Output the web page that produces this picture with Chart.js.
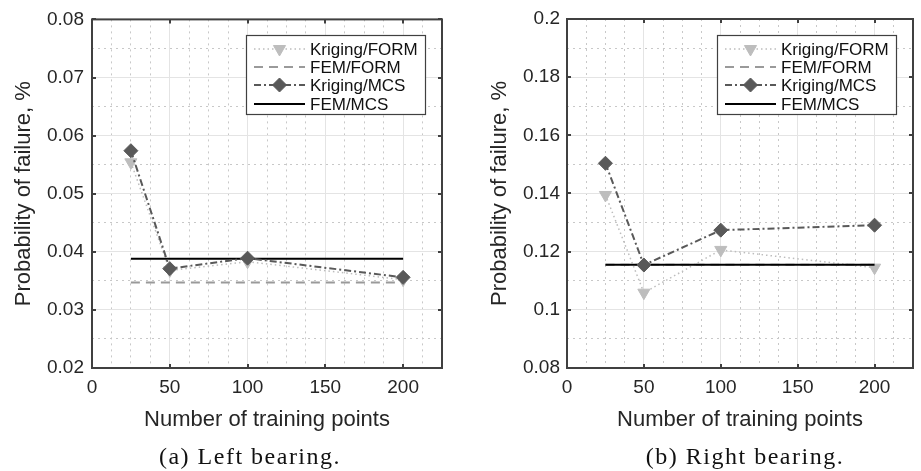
<!DOCTYPE html>
<html lang="en">

<head>
    <meta charset="UTF-8">
    <title>Probability of failure</title>
    <style>
        body { margin: 0; background: #fff; width: 921px; height: 471px; position: relative; overflow: hidden; }
        .painel { position: absolute; top: 0; height: 471px; }
        #painel-esq { left: 0; width: 460px; }
        #painel-dir { left: 460px; width: 461px; }
        .legenda-fig {
            position: absolute; top: 444px; line-height: 24px;
            font-family: "Liberation Serif", serif; font-size: 24px; letter-spacing: 1.5px;
            transform: translateX(-50%); white-space: nowrap; color: #111;
        }
    </style>
</head>

<body>
    <div class="painel" id="painel-esq"><canvas id="grafico-esq"></canvas></div>
    <div class="painel" id="painel-dir"><canvas id="grafico-dir"></canvas></div>
    <div class="legenda-fig" style="left: 250px;">(a) Left bearing.</div>
    <div class="legenda-fig" style="left: 745px;">(b) Right bearing.</div>
</body>

</html>
<script src="https://cdn.jsdelivr.net/npm/chart.js"></script>
<script>
    // dados
    var pontosTreino = [25, 50, 100, 200];
    var faixaFem = [25, 200];

    var esqKrigingForm = [0.0554, 0.0368, 0.0383, 0.0352];
    var esqKrigingMcs = [0.0574, 0.0371, 0.0389, 0.0356];
    var esqFemForm = 0.0347;
    var esqFemMcs = 0.0388;

    var dirKrigingForm = [0.1395, 0.1059, 0.1206, 0.1145];
    var dirKrigingMcs = [0.1504, 0.1154, 0.1274, 0.1291];
    var dirFemForm = 0.1155;
    var dirFemMcs = 0.1155;

    var xLimites = [0, 225];
    var xTicks = [0, 50, 100, 150, 200];
    var xPasso = 50;
    var xPassoMenor = 12.5;
    var esqYLimites = [0.02, 0.08];
    var esqYPasso = 0.01;
    var dirYLimites = [0.08, 0.2];
    var dirYPasso = 0.02;

    Chart.defaults.font.family = '"Liberation Sans", Arial, sans-serif';
    Chart.defaults.color = '#262626';

    function pares(xs, ys) {
        return xs.map(function (x, i) { return { x: x, y: ys[i] }; });
    }

    function multiplo(v, passo) {
        return Math.abs(Math.round(v / passo) * passo - v) < 1e-9;
    }

    // caixa estilo matlab + legenda dentro do grafico
    var caixaMatlab = {
        id: 'caixaMatlab',
        afterDatasetsDraw: function (chart) {
            var ctx = chart.ctx;
            var a = chart.chartArea;
            var sx = chart.scales.x;
            var sy = chart.scales.y;
            ctx.save();
            ctx.strokeStyle = '#404040';
            ctx.lineWidth = 2;
            ctx.beginPath();
            sx.ticks.forEach(function (t) {
                var px = Math.round(sx.getPixelForValue(t.value));
                ctx.moveTo(px, a.bottom); ctx.lineTo(px, a.bottom - 4);
                ctx.moveTo(px, a.top); ctx.lineTo(px, a.top + 4);
            });
            sy.ticks.forEach(function (t) {
                var py = Math.round(sy.getPixelForValue(t.value));
                ctx.moveTo(a.left, py); ctx.lineTo(a.left + 4, py);
                ctx.moveTo(a.right, py); ctx.lineTo(a.right - 4, py);
            });
            ctx.stroke();
            ctx.strokeRect(a.left, a.top, a.right - a.left, a.bottom - a.top);

            // legenda
            var larg = 179, alt = 79;
            var bx = Math.round(a.right - 17 - larg);
            var by = Math.round(a.top + 16);
            ctx.fillStyle = '#fff';
            ctx.fillRect(bx, by, larg, alt);
            ctx.strokeStyle = '#404040';
            ctx.lineWidth = 1.2;
            ctx.strokeRect(bx + 0.5, by + 0.5, larg, alt);
            var linhas = [14, 32, 50, 69];
            chart.data.datasets.forEach(function (ds, i) {
                var ly = by + linhas[i];
                ctx.save();
                ctx.strokeStyle = ds.borderColor;
                ctx.lineWidth = ds.borderWidth;
                ctx.setLineDash(ds.borderDash || []);
                ctx.beginPath();
                ctx.moveTo(bx + 8, ly);
                ctx.lineTo(bx + 59, ly);
                ctx.stroke();
                ctx.restore();
                if (ds.pointRadius > 0) {
                    ctx.save();
                    ctx.fillStyle = ds.pointBackgroundColor;
                    ctx.strokeStyle = ds.pointBackgroundColor;
                    ctx.lineWidth = 1;
                    Chart.helpers.drawPoint(ctx, {
                        pointStyle: ds.pointStyle, rotation: ds.pointRotation || 0,
                        radius: ds.pointRadius, borderWidth: 1
                    }, bx + 33.5, ly);
                    ctx.restore();
                }
                ctx.fillStyle = '#111';
                ctx.font = '17px "Liberation Sans", Arial, sans-serif';
                ctx.textBaseline = 'middle';
                ctx.textAlign = 'left';
                ctx.fillText(ds.label, bx + 64, ly + 1);
            });
            ctx.restore();
        }
    };

    function criarGrafico(idCanvas, krigForm, krigMcs, femForm, femMcs, yLim, yPasso, cfg) {
        return new Chart(document.getElementById(idCanvas), {
            type: 'line',
            data: {
                datasets: [
                    {
                        label: 'Kriging/FORM',
                        data: pares(pontosTreino, krigForm),
                        borderColor: '#bdbdbd',
                        borderWidth: 1.5,
                        borderDash: [1.5, 3],
                        pointStyle: 'triangle',
                        pointRotation: 180,
                        pointRadius: 7,
                        pointBackgroundColor: '#bdbdbd',
                        pointBorderColor: '#bdbdbd',
                        pointBorderWidth: 1,
                        order: 3
                    },
                    {
                        label: 'FEM/FORM',
                        data: pares(faixaFem, [femForm, femForm]),
                        borderColor: '#9a9a9a',
                        borderWidth: 2,
                        borderDash: [9, 6],
                        pointRadius: 0,
                        order: 2
                    },
                    {
                        label: 'Kriging/MCS',
                        data: pares(pontosTreino, krigMcs),
                        borderColor: '#595959',
                        borderWidth: 2,
                        borderDash: [7, 3, 2, 3],
                        pointStyle: 'rectRot',
                        pointRadius: 7,
                        pointBackgroundColor: '#595959',
                        pointBorderColor: '#595959',
                        pointBorderWidth: 1,
                        order: 0
                    },
                    {
                        label: 'FEM/MCS',
                        data: pares(faixaFem, [femMcs, femMcs]),
                        borderColor: '#000',
                        borderWidth: 2,
                        pointRadius: 0,
                        order: 1
                    }
                ]
            },
            options: {
                responsive: true,
                maintainAspectRatio: false,
                animation: false,
                events: [],
                layout: { padding: { left: cfg.padEsq, right: cfg.padDir, top: 19, bottom: 34 } },
                plugins: { legend: { display: false }, tooltip: { enabled: false } },
                scales: {
                    xMenor: {
                        type: 'linear', position: 'bottom', min: xLimites[0], max: xLimites[1],
                        ticks: { display: false, stepSize: xPassoMenor },
                        grid: {
                            drawTicks: false, lineWidth: 1,
                            color: function (c) { return c.tick && multiplo(c.tick.value, xPasso) ? 'rgba(0,0,0,0)' : '#c8c8c8'; }
                        },
                        border: { display: false, dash: [2, 4] },
                        afterFit: function (s) { s.height = 0; }
                    },
                    yMenor: {
                        type: 'linear', position: 'left', min: yLim[0], max: yLim[1],
                        ticks: { display: false, stepSize: yPasso / 2 },
                        grid: {
                            drawTicks: false, lineWidth: 1,
                            color: function (c) { return c.tick && multiplo(c.tick.value, yPasso) ? 'rgba(0,0,0,0)' : '#c8c8c8'; }
                        },
                        border: { display: false, dash: [2, 4] },
                        afterFit: function (s) { s.width = 0; }
                    },
                    x: {
                        type: 'linear', position: 'bottom', min: xLimites[0], max: xLimites[1],
                        afterBuildTicks: function (s) {
                            s.ticks = xTicks.map(function (v) { return { value: v }; });
                        },
                        ticks: { padding: 8, font: { size: 19 }, maxRotation: 0, autoSkip: false },
                        grid: { drawTicks: false, color: '#e4e4e4', lineWidth: 1 },
                        border: { display: false },
                        title: { display: true, text: 'Number of training points', font: { size: 22 }, padding: { top: 4, bottom: 4 } },
                        afterFit: function (s) { s.height = 69; }
                    },
                    y: {
                        type: 'linear', position: 'left', min: yLim[0], max: yLim[1],
                        ticks: {
                            stepSize: yPasso, padding: cfg.yPad, font: { size: 19 },
                            callback: function (v) { return String(parseFloat(v.toFixed(3))); }
                        },
                        grid: { drawTicks: false, color: '#e4e4e4', lineWidth: 1 },
                        border: { display: false },
                        title: { display: true, text: 'Probability of failure, %', font: { size: 22 }, padding: { top: 4, bottom: 4 } },
                        afterFit: function (s) { s.width = cfg.yLarg; }
                    }
                }
            },
            plugins: [caixaMatlab]
        });
    }

    var graficoEsq = criarGrafico('grafico-esq', esqKrigingForm, esqKrigingMcs, esqFemForm, esqFemMcs,
        esqYLimites, esqYPasso, { padEsq: 7, padDir: 18, yLarg: 85, yPad: 8 });
    var graficoDir = criarGrafico('grafico-dir', dirKrigingForm, dirKrigingMcs, dirFemForm, dirFemMcs,
        dirYLimites, dirYPasso, { padEsq: 23, padDir: 3, yLarg: 84, yPad: 7 });
</script>
